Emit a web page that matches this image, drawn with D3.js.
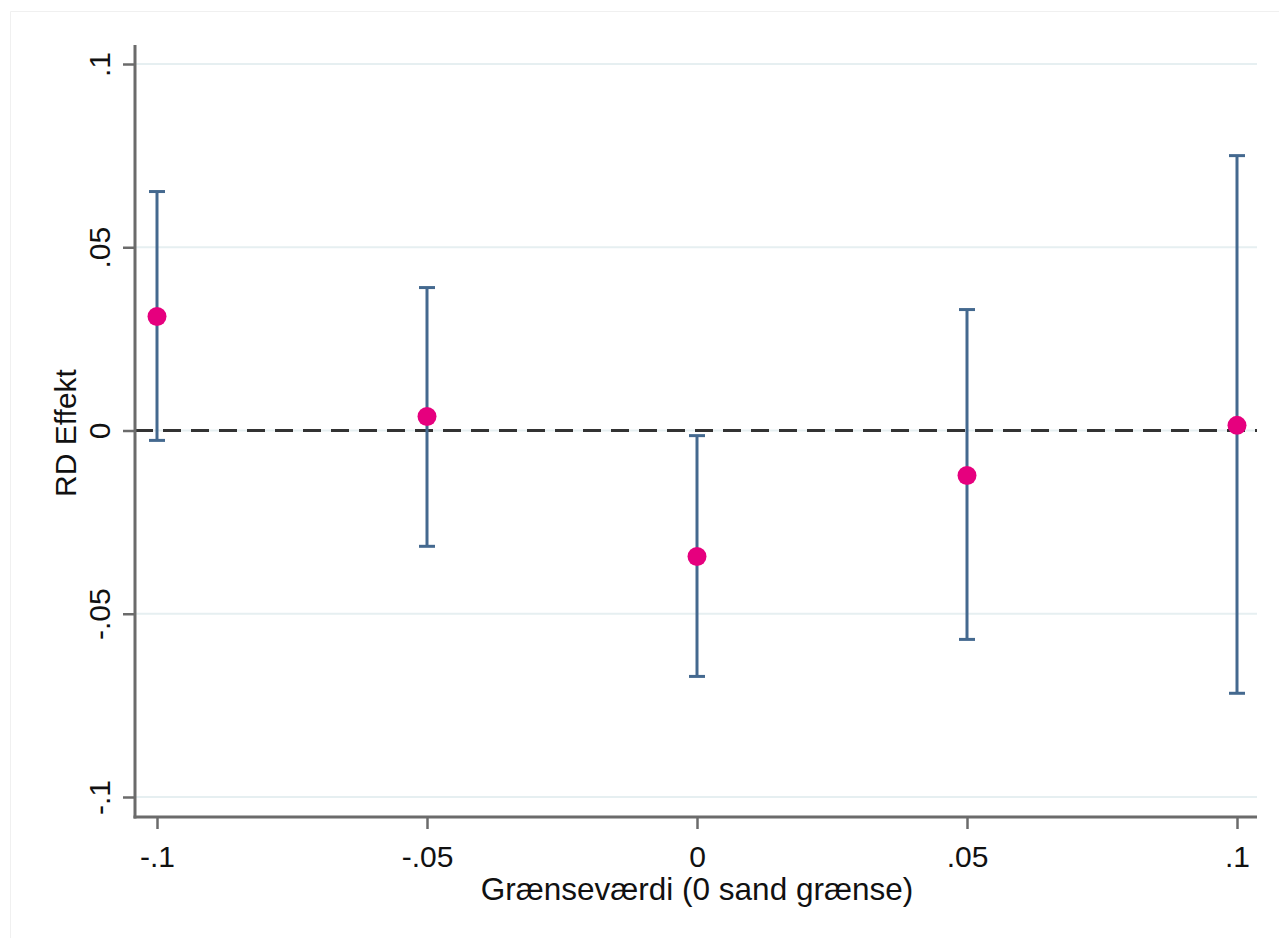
<!DOCTYPE html>
<html>
<head>
<meta charset="utf-8">
<script src="https://cdn.jsdelivr.net/npm/d3@7"></script>
<style>
  body { margin: 0; background: #fff; }
  svg { display: block; font-family: "Liberation Sans", Arial, sans-serif; }
</style>
</head>
<body>
<svg id="chart" width="1279" height="938"></svg>
<script>
// RD estimates across placebo cutoffs, with confidence intervals
const cutoffs  = [-0.1, -0.05, 0, 0.05, 0.1];
const estimate = [0.0311, 0.0038, -0.0344, -0.0123, 0.0014];
const ciLower  = [-0.0027, -0.0316, -0.0671, -0.0570, -0.0717];
const ciUpper  = [0.0652, 0.0390, -0.0014, 0.0330, 0.0750];
const xTicks   = [-0.1, -0.05, 0, 0.05, 0.1];
const yTicks   = [-0.1, -0.05, 0, 0.05, 0.1];
const xTickLabels = ["-.1", "-.05", "0", ".05", ".1"];
const yTickLabels = ["-.1", "-.05", "0", ".05", ".1"];

const svg = d3.select("#chart");
const fontSize = 30;

// faint outer frame of the graph region
svg.append("path")
  .attr("d", "M10.5,938 V11.5 H1279")
  .attr("fill", "none")
  .attr("stroke", "#f0f0f0")
  .attr("stroke-width", 1);

const x = d3.scaleLinear().domain([-0.1, 0.1]).range([157, 1237]);
const y = d3.scaleLinear().domain([-0.1, 0.1]).range([797, 64]);

const plotLeft = 135, plotRight = 1257, plotTop = 45, plotBottom = 817;

// horizontal gridlines
svg.append("g").selectAll("line").data(yTicks).join("line")
  .attr("x1", plotLeft).attr("x2", plotRight)
  .attr("y1", d => y(d)).attr("y2", d => y(d))
  .attr("stroke", "#e6eff1").attr("stroke-width", 2);

// reference line at zero
svg.append("line")
  .attr("x1", plotLeft).attr("x2", plotRight)
  .attr("y1", y(0)).attr("y2", y(0))
  .attr("stroke", "#333").attr("stroke-width", 3)
  .attr("stroke-dasharray", "18,10");

// y axis
const yAxis = d3.axisLeft(y).tickValues(yTicks)
  .tickFormat((d, i) => yTickLabels[i]).tickSize(12);
const gy = svg.append("g").attr("transform", `translate(${plotLeft},0)`).call(yAxis);
gy.select(".domain").remove();
gy.append("line").attr("x1", 0).attr("x2", 0).attr("y1", plotTop).attr("y2", plotBottom + 1.5)
  .attr("stroke", "#6b6b6b").attr("stroke-width", 3);
gy.selectAll(".tick line").attr("stroke", "#6b6b6b").attr("stroke-width", 2.5);
gy.selectAll(".tick text")
  .attr("fill", "#111").attr("font-size", fontSize)
  .attr("text-anchor", "middle")
  .attr("x", 0).attr("y", 0).attr("dy", 0)
  .attr("transform", "translate(-25,0) rotate(-90)");

// x axis
const xAxis = d3.axisBottom(x).tickValues(xTicks)
  .tickFormat((d, i) => xTickLabels[i]).tickSize(12);
const gx = svg.append("g").attr("transform", `translate(0,${plotBottom})`).call(xAxis);
gx.select(".domain").remove();
gx.append("line").attr("x1", plotLeft - 1.5).attr("x2", plotRight).attr("y1", 0).attr("y2", 0)
  .attr("stroke", "#6b6b6b").attr("stroke-width", 3);
gx.selectAll(".tick line").attr("stroke", "#6b6b6b").attr("stroke-width", 2.5);
gx.selectAll(".tick text").attr("fill", "#111").attr("font-size", fontSize)
  .attr("y", 50).attr("dy", 0);

// axis titles
svg.append("text")
  .attr("transform", `translate(76,433) rotate(-90)`)
  .attr("text-anchor", "middle").attr("font-size", fontSize).attr("fill", "#111")
  .text("RD Effekt");
svg.append("text")
  .attr("x", x(0)).attr("y", 900)
  .attr("text-anchor", "middle").attr("font-size", 31.5).attr("fill", "#111")
  .text("Grænseværdi (0 sand grænse)");

// confidence intervals
const rows = cutoffs.map((c, i) => ({ c, est: estimate[i], lo: ciLower[i], hi: ciUpper[i] }));
const ci = svg.append("g").attr("stroke", "#44698f").attr("stroke-width", 3).attr("fill", "none");
ci.selectAll("line.v").data(rows).join("line").attr("class", "v")
  .attr("x1", d => x(d.c)).attr("x2", d => x(d.c))
  .attr("y1", d => y(d.hi)).attr("y2", d => y(d.lo));
ci.selectAll("line.top").data(rows).join("line").attr("class", "top")
  .attr("x1", d => x(d.c) - 8).attr("x2", d => x(d.c) + 8)
  .attr("y1", d => y(d.hi)).attr("y2", d => y(d.hi));
ci.selectAll("line.bot").data(rows).join("line").attr("class", "bot")
  .attr("x1", d => x(d.c) - 8).attr("x2", d => x(d.c) + 8)
  .attr("y1", d => y(d.lo)).attr("y2", d => y(d.lo));

// point estimates
svg.append("g").selectAll("circle").data(rows).join("circle")
  .attr("cx", d => x(d.c)).attr("cy", d => y(d.est))
  .attr("r", 9.5).attr("fill", "#e6007e");
</script>
</body>
</html>
